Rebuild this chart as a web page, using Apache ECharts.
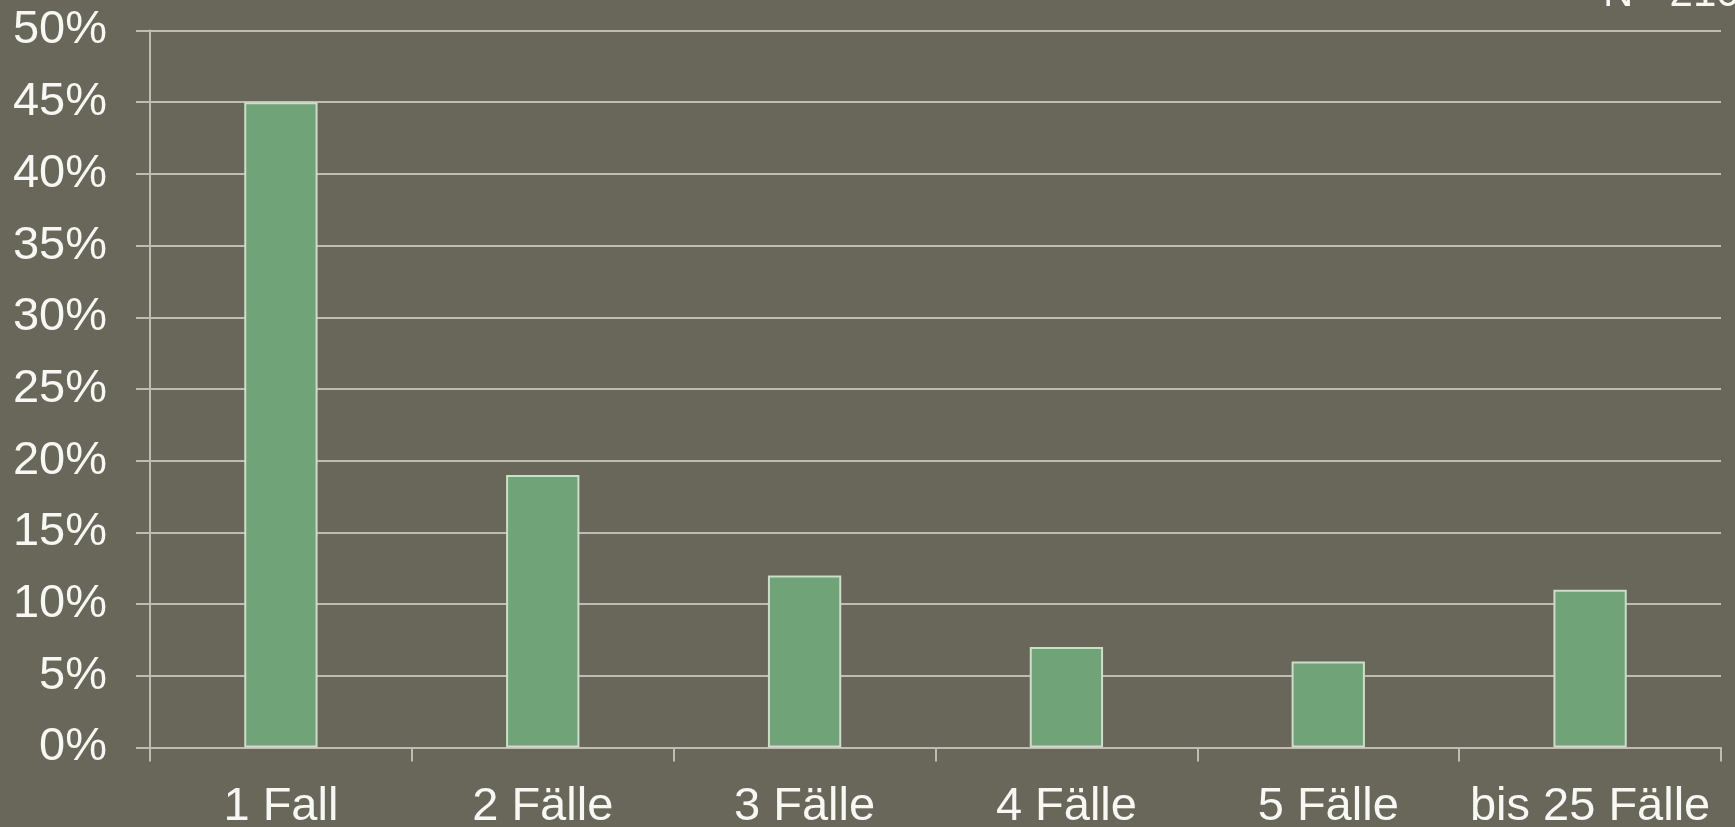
<!DOCTYPE html>
<html>
<head>
<meta charset="utf-8">
<script src="https://cdn.jsdelivr.net/npm/echarts@6/dist/echarts.min.js"></script>
<style>
  html, body { margin: 0; padding: 0; background: #686759; }
  #main { width: 1735px; height: 827px; }
</style>
</head>
<body>
<div id="main"></div>
<script>
// Kategorien und Anteile (%)
var categories = ['1 Fall', '2 Fälle', '3 Fälle', '4 Fälle', '5 Fälle', 'bis 25 Fälle'];
var shares = [45, 19, 12, 7, 6, 11];
var yTicks = [0, 5, 10, 15, 20, 25, 30, 35, 40, 45, 50];
var noteText = 'N =210';

var lineColor = '#bdbdb4';
var textColor = '#f7f7f4';

var myChart = echarts.init(document.getElementById('main'));

var option = {
    backgroundColor: '#686759',
    animation: false,
    textStyle: { fontFamily: 'Liberation Sans, Arial, sans-serif' },
    grid: {
        left: 150,
        right: 14,
        top: 30.5,
        bottom: 79.5,
        outerBoundsMode: 'none'
    },
    graphic: [{
        type: 'text',
        left: 1603,
        top: -27,
        style: {
            text: noteText,
            fill: textColor,
            fontSize: 42,
            fontFamily: 'Liberation Sans, Arial, sans-serif'
        }
    }],
    xAxis: {
        type: 'category',
        data: categories,
        axisLine: { lineStyle: { color: lineColor, width: 2 } },
        axisTick: { show: true, length: 14, lineStyle: { color: lineColor, width: 2 } },
        axisLabel: {
            color: textColor,
            fontSize: 47,
            margin: 36,
            interval: 0
        }
    },
    yAxis: {
        type: 'value',
        min: yTicks[0],
        max: yTicks[yTicks.length - 1],
        interval: 5,
        axisLine: { show: true, lineStyle: { color: lineColor, width: 2 } },
        axisTick: { show: true, length: 14, lineStyle: { color: lineColor, width: 2 } },
        splitLine: { show: true, lineStyle: { color: lineColor, width: 2 } },
        axisLabel: {
            color: textColor,
            fontSize: 47,
            margin: 43,
            formatter: '{value}%'
        }
    },
    series: [{
        type: 'bar',
        data: shares,
        barWidth: '28%',
        itemStyle: {
            color: '#70a377',
            borderColor: '#cfdcc9',
            borderWidth: 2
        }
    }]
};
myChart.setOption(option);

window.onresize = function () {
    myChart.resize();
};
</script>
</body>
</html>
